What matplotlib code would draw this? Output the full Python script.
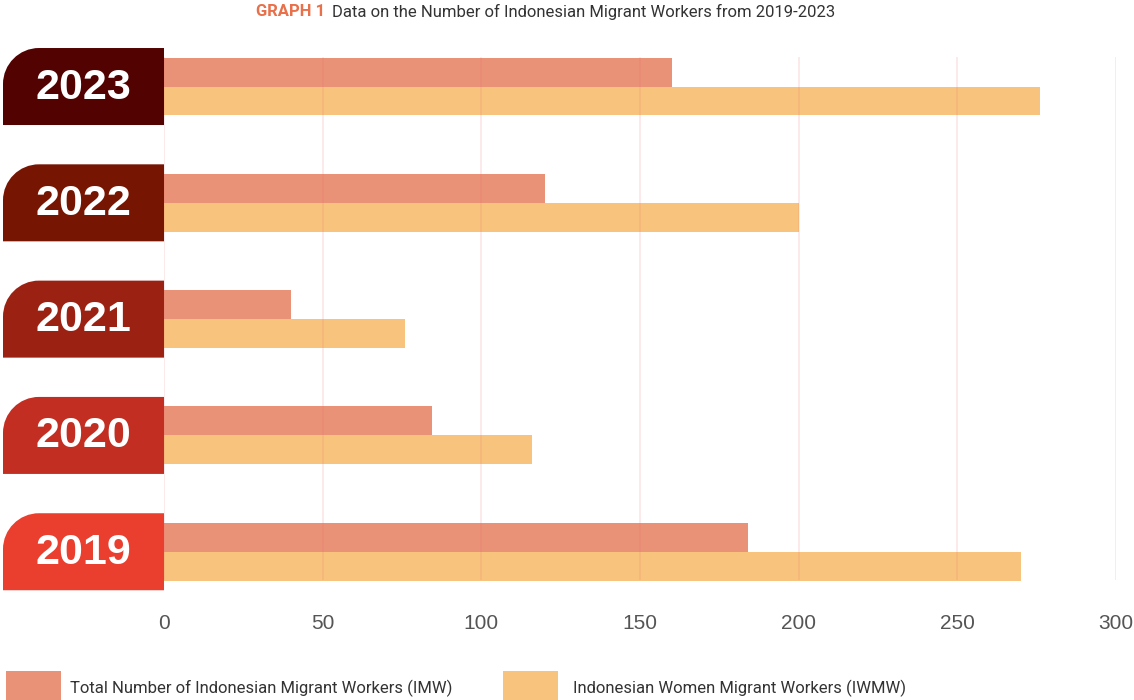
import matplotlib
matplotlib.use("Agg")
import matplotlib.pyplot as plt
from matplotlib.path import Path
from matplotlib.patches import PathPatch, Rectangle

# dades llegides del gràfic
years = ["2019", "2020", "2021", "2022", "2023"]
imw = [184, 84.5, 40, 120, 160]        # Total Number of Indonesian Migrant Workers
iwmw = [270, 116, 76, 200, 276]        # Indonesian Women Migrant Workers
year_colors = ["#ea3e2e", "#c22e22", "#9b2213", "#771503", "#510201"]
x_ticks = [0, 50, 100, 150, 200, 250, 300]
series_labels = ["Total Number of Indonesian Migrant Workers (IMW)",
                 "Indonesian Women Migrant Workers (IWMW)"]
series_colors = ["#e99277", "#f8c47d"]

W, H = 1134, 700
fig = plt.figure(figsize=(W / 100, H / 100), dpi=100)
ax = fig.add_axes([164 / W, 110 / H, 952 / W, 550 / H])

bar_h = 0.249
pos = list(range(len(years)))
ax.barh([p + bar_h / 2 for p in pos], imw, height=bar_h, color=series_colors[0], zorder=2)
ax.barh([p - bar_h / 2 for p in pos], iwmw, height=bar_h, color=series_colors[1], zorder=2)

# línies verticals per sobre de les barres
ax.vlines(x_ticks, -0.243, 4.254, color="#f07070", alpha=0.2, linewidth=1.1, zorder=3)

ax.set_xlim(0, 300)
ax.set_ylim(-0.329, 4.40)
ax.set_yticks([])
ax.set_xticks(x_ticks)
ax.set_xticklabels([str(t) for t in x_ticks], fontsize=15, color="#555555",
                   family=["Liberation Sans", "DejaVu Sans"])
ax.tick_params(axis="x", length=0, pad=17)
for s in ax.spines.values():
    s.set_visible(False)

# etiquetes d'any amb la cantonada superior esquerra arrodonida
x0, x1, r = 3, 164, 36
box_h = 77
for p, y, c in zip(pos, years, year_colors):
    cy = ax.transData.transform((0, p))[1]
    yb, yt = cy - box_h / 2, cy + box_h / 2
    k = 0.5523 * r
    verts = [(x0, yb), (x1, yb), (x1, yt), (x0 + r, yt),
             (x0 + r - k, yt), (x0, yt - r + k), (x0, yt - r),
             (x0, yb)]
    codes = [Path.MOVETO, Path.LINETO, Path.LINETO, Path.LINETO,
             Path.CURVE4, Path.CURVE4, Path.CURVE4, Path.CLOSEPOLY]
    verts = [(vx / W, vy / H) for vx, vy in verts]
    fig.add_artist(PathPatch(Path(verts, codes), transform=fig.transFigure,
                             facecolor=c, edgecolor="none"))
    fig.text((x0 + x1) / 2 / W, (cy - 1) / H, y, ha="center", va="center",
             fontsize=31, fontweight="bold", color="white",
             family=["Liberation Sans", "DejaVu Sans"])

# títol
fig.text(325 / W, 1 - 12 / H, "GRAPH 1", ha="right", va="center", fontsize=12,
         fontweight="bold", color="#e8704a", family=["Roboto", "DejaVu Sans"])
fig.text(332 / W, 1 - 12 / H, "Data on the Number of Indonesian Migrant Workers from 2019-2023",
         ha="left", va="center", fontsize=12, color="#333333",
         family=["Roboto", "DejaVu Sans"])

# llegenda
for lx, tx, lab, col in zip([6, 503], [70, 573], series_labels, series_colors):
    fig.add_artist(Rectangle((lx / W, 0), 55 / W, 29 / H, transform=fig.transFigure,
                             facecolor=col, edgecolor="none"))
    fig.text(tx / W, 12 / H, lab, ha="left", va="center", fontsize=12,
             color="#333333", family=["Roboto", "DejaVu Sans"])

fig.savefig("out.png", dpi=100)
